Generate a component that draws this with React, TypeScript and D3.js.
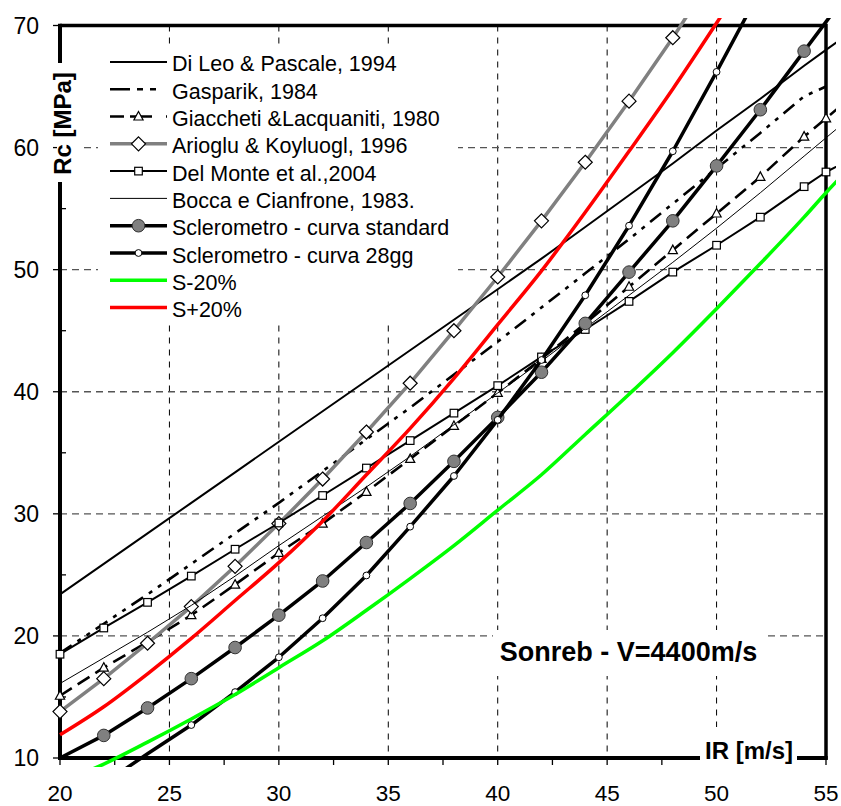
import React, { useRef, useEffect } from "react";
import * as d3 from "d3";

const W = 841;
const H = 806;

// IR [m/s] positions where the curves were read (even steps, plus the right edge)
const irValues = [20, 22, 24, 26, 28, 30, 32, 34, 36, 38, 40, 42, 44, 46, 48, 50, 52, 54, 55, 56];

// Rc [MPa] per curve, aligned with irValues (null = not drawn)
const diLeo = [23.4, 25.9, 28.4, 30.9, 33.4, 35.9, 38.4, 40.9, 43.4, 45.9, 48.4, 50.9, 53.5, 56.1, 58.7, 61.4, 64.0, 66.7, 68.0, 69.3];
const gasparik = [18.6, 21.0, 23.4, 25.9, 28.4, 30.9, 33.5, 36.1, 38.7, 41.4, 44.1, 46.9, 49.7, 52.5, 55.4, 58.3, 61.2, 64.2, 65.0, null];
const giaccheti = [15.1, 17.4, 19.5, 21.7, 24.2, 26.8, 29.2, 31.8, 34.5, 37.2, 39.9, 42.7, 45.6, 48.6, 51.6, 54.6, 57.6, 60.9, 62.4, 63.9];
const arioglu = [13.8, 16.5, 19.4, 22.4, 25.7, 29.2, 32.85, 36.7, 40.7, 45.0, 49.4, 54.0, 58.8, 63.8, 69.0, 74.5, null, null, null, null];
const delMonte = [18.5, 20.65, 22.75, 24.9, 27.1, 29.25, 31.5, 33.75, 36.0, 38.25, 40.5, 42.85, 45.1, 47.4, 49.8, 52.0, 54.3, 56.8, 58.0, 58.9];
const bocca = [16.1, 18.2, 20.3, 22.5, 24.9, 27.4, 29.8, 32.2, 34.7, 37.3, 39.9, 42.5, 45.2, 47.9, 50.6, 53.4, 56.3, 59.3, 60.8, 62.3];
const sclerStd = [10.0, 11.85, 14.1, 16.5, 19.05, 21.7, 24.5, 27.65, 30.85, 34.3, 37.9, 41.6, 45.6, 49.8, 54.0, 58.5, 63.1, 67.9, 70.3, 72.7];
const scler28 = [null, 7.9, 10.35, 12.7, 15.4, 18.25, 21.45, 24.95, 28.95, 33.1, 37.7, 42.6, 47.9, 53.6, 59.7, 66.2, 72.9, null, null, null];
const sMinus20 = [8.0, 9.5, 11.3, 13.2, 15.2, 17.4, 19.6, 22.1, 24.7, 27.4, 30.3, 33.2, 36.5, 39.8, 43.2, 46.8, 50.5, 54.3, 56.3, 58.2];
const sPlus20 = [11.9, 14.2, 16.9, 19.8, 22.9, 26.0, 29.4, 33.2, 37.0, 41.1, 45.5, 49.9, 54.7, 59.7, 64.8, 70.2, 75.7, null, null, null];

const xTicks = [20, 25, 30, 35, 40, 45, 50, 55];
const xMinor = [22.5, 27.5, 32.5, 37.5, 42.5, 47.5, 52.5];
const yTicks = [10, 20, 30, 40, 50, 60, 70];
const yMinor = [15, 25, 35, 45, 55, 65];
const xGrid = [25, 30, 35, 40, 45, 50];
const yGrid = [20, 30, 40, 50, 60];

const series = [
  { name: "Di Leo & Pascale, 1994", values: diLeo, color: "#000", width: 2, dash: null, marker: null, endMark: false },
  { name: "Gasparik, 1984", values: gasparik, color: "#000", width: 2.6, dash: "14,7,4,7,4,7", marker: null, endMark: false },
  { name: "Giaccheti &Lacquaniti, 1980", values: giaccheti, color: "#000", width: 2.6, dash: "14,7", marker: "triangle", endMark: true },
  { name: "Arioglu & Koyluogl, 1996", values: arioglu, color: "#808080", width: 3.5, dash: null, marker: "diamond", endMark: false },
  { name: "Del Monte et al.,2004", values: delMonte, color: "#000", width: 2, dash: null, marker: "square", endMark: true },
  { name: "Bocca e Cianfrone, 1983.", values: bocca, color: "#000", width: 1, dash: null, marker: null, endMark: false },
  { name: "Sclerometro - curva standard", values: sclerStd, color: "#000", width: 3.5, dash: null, marker: "bigCircle", endMark: false },
  { name: "Sclerometro - curva 28gg", values: scler28, color: "#000", width: 3.5, dash: null, marker: "smallCircle", endMark: false },
  { name: "S-20%", values: sMinus20, color: "#00ff00", width: 3.5, dash: null, marker: null, endMark: false, smooth: true },
  { name: "S+20%", values: sPlus20, color: "#ff0000", width: 3.5, dash: null, marker: null, endMark: false, smooth: true },
];

const FONT = "'Liberation Sans', Arial, sans-serif";

function drawMarker(g, type, x, y) {
  if (type === "triangle") {
    g.append("path")
      .attr("d", `M${x},${y - 5} L${x + 4.6},${y + 3.5} L${x - 4.6},${y + 3.5} Z`)
      .attr("fill", "#fff").attr("stroke", "#000").attr("stroke-width", 1.2);
  } else if (type === "square") {
    g.append("rect")
      .attr("x", x - 3.8).attr("y", y - 3.8).attr("width", 7.6).attr("height", 7.6)
      .attr("fill", "#fff").attr("stroke", "#000").attr("stroke-width", 1.2);
  } else if (type === "diamond") {
    g.append("path")
      .attr("d", `M${x},${y - 7} L${x + 7},${y} L${x},${y + 7} L${x - 7},${y} Z`)
      .attr("fill", "#fff").attr("stroke", "#000").attr("stroke-width", 1.2);
  } else if (type === "bigCircle") {
    g.append("circle").attr("cx", x).attr("cy", y).attr("r", 6.3)
      .attr("fill", "#808080").attr("stroke", "#333").attr("stroke-width", 1);
  } else if (type === "smallCircle") {
    g.append("circle").attr("cx", x).attr("cy", y).attr("r", 3.4)
      .attr("fill", "#fff").attr("stroke", "#000").attr("stroke-width", 1);
  }
}

const App = () => {
  const ref = useRef(null);

  useEffect(() => {
    const svg = d3.select(ref.current);
    svg.selectAll("*").remove();

    const x = d3.scaleLinear().domain([20, 55]).range([60, 826]);
    const y = d3.scaleLinear().domain([10, 70]).range([758, 25.5]);

    svg.append("defs").append("clipPath").attr("id", "plotClip")
      .append("rect").attr("x", 56).attr("y", 18).attr("width", 780).attr("height", 749);

    // grid
    svg.append("g").selectAll("line").data(xGrid).enter().append("line")
      .attr("x1", (d) => x(d)).attr("x2", (d) => x(d))
      .attr("y1", y(70)).attr("y2", y(10))
      .attr("stroke", "#000").attr("stroke-width", 1).attr("stroke-dasharray", "6,6");
    svg.append("g").selectAll("line").data(yGrid).enter().append("line")
      .attr("x1", x(20)).attr("x2", x(55))
      .attr("y1", (d) => y(d)).attr("y2", (d) => y(d))
      .attr("stroke", "#555").attr("stroke-width", 1.3).attr("stroke-dasharray", "7,5");

    // legend background
    svg.append("rect").attr("x", 98).attr("y", 47).attr("width", 360).attr("height", 273).attr("fill", "#fff");

    // frame and ticks
    const frame = svg.append("g").attr("stroke", "#000");
    frame.append("line").attr("x1", x(20)).attr("x2", x(55)).attr("y1", y(70)).attr("y2", y(70)).attr("stroke-width", 3.5);
    frame.append("line").attr("x1", x(55)).attr("x2", x(55)).attr("y1", y(70) - 1.7).attr("y2", y(10) + 1.7).attr("stroke-width", 3.5);
    frame.append("line").attr("x1", x(20)).attr("x2", x(55) + 1.7).attr("y1", y(10)).attr("y2", y(10)).attr("stroke-width", 4);
    frame.append("line").attr("x1", x(20)).attr("x2", x(20)).attr("y1", y(70) - 1.7).attr("y2", y(10) + 2).attr("stroke-width", 4);
    frame.selectAll(".xt").data(xTicks.concat(xMinor)).enter().append("line")
      .attr("x1", (d) => x(d)).attr("x2", (d) => x(d)).attr("y1", y(10)).attr("y2", y(10) + 7).attr("stroke-width", 1.3);
    frame.selectAll(".yt").data(yTicks).enter().append("line")
      .attr("x1", x(20) - 7).attr("x2", x(20)).attr("y1", (d) => y(d)).attr("y2", (d) => y(d)).attr("stroke-width", 1.3);
    frame.selectAll(".ym").data(yMinor).enter().append("line")
      .attr("x1", x(20)).attr("x2", x(20) + 6).attr("y1", (d) => y(d)).attr("y2", (d) => y(d)).attr("stroke-width", 1.3);

    // tick labels
    svg.append("g").selectAll("text").data(xTicks).enter().append("text")
      .attr("x", (d) => x(d)).attr("y", 800.5).attr("text-anchor", "middle")
      .attr("font-family", FONT).attr("font-size", 22.5).text((d) => d);
    svg.append("g").selectAll("text").data(yTicks).enter().append("text")
      .attr("x", 39).attr("y", (d) => y(d) + 8.2).attr("text-anchor", "end")
      .attr("font-family", FONT).attr("font-size", 23).text((d) => d);

    // series
    const plot = svg.append("g");
    series.forEach((s) => {
      const pts = irValues.map((ir, i) => [ir, s.values[i]]);
      const line = d3.line()
        .defined((d) => d[1] != null)
        .x((d) => x(d[0]))
        .y((d) => y(d[1]))
        .curve(s.smooth ? d3.curveMonotoneX : d3.curveLinear);
      plot.append("path")
        .attr("d", line(pts))
        .attr("clip-path", "url(#plotClip)")
        .attr("fill", "none")
        .attr("stroke", s.color)
        .attr("stroke-width", s.width)
        .attr("stroke-dasharray", s.dash)
        .attr("stroke-linejoin", "round");
      if (s.marker) {
        pts.forEach(([ir, v]) => {
          if (v == null || v < 10.5 || v > 70.5 || ir > 55) return;
          if (ir === 55 && !s.endMark) return;
          drawMarker(plot, s.marker, x(ir), y(v));
        });
      }
    });

    // axis titles with white backing
    svg.append("rect").attr("x", 700).attr("y", 727).attr("width", 97).attr("height", 42).attr("fill", "#fff");
    svg.append("text").attr("x", 749).attr("y", 759).attr("text-anchor", "middle")
      .attr("font-family", FONT).attr("font-weight", "bold").attr("font-size", 24).text("IR [m/s]");
    svg.append("rect").attr("x", 57).attr("y", 63).attr("width", 27).attr("height", 119).attr("fill", "#fff");
    svg.append("text").attr("transform", "translate(71,123.5) rotate(-90)").attr("text-anchor", "middle")
      .attr("font-family", FONT).attr("font-weight", "bold").attr("font-size", 24).text("Rc [MPa]");
    svg.append("rect").attr("x", 493).attr("y", 630).attr("width", 272).attr("height", 46).attr("fill", "#fff");
    svg.append("text").attr("x", 628.5).attr("y", 660.5).attr("text-anchor", "middle")
      .attr("font-family", FONT).attr("font-weight", "bold").attr("font-size", 27).text("Sonreb - V=4400m/s");

    // legend
    const legend = svg.append("g");
    series.forEach((s, i) => {
      const ly = 61.9 + i * 27.3;
      legend.append("line")
        .attr("x1", 110).attr("x2", 167).attr("y1", ly).attr("y2", ly)
        .attr("stroke", s.color).attr("stroke-width", s.width)
        .attr("stroke-dasharray", s.dash ? (s.dash === "14,7" ? "14,6,22" : "20,7,6,7,6") : null);
      if (s.marker) drawMarker(legend, s.marker, 138.5, ly);
      legend.append("text").attr("x", 172).attr("y", ly + 9.5)
        .attr("font-family", FONT).attr("font-size", 21.5).text(s.name);
    });
  }, []);

  return (
    <svg ref={ref} width={W} height={H} style={{ position: "absolute", left: 0, top: 0, background: "#fff" }} />
  );
};

export default App;
